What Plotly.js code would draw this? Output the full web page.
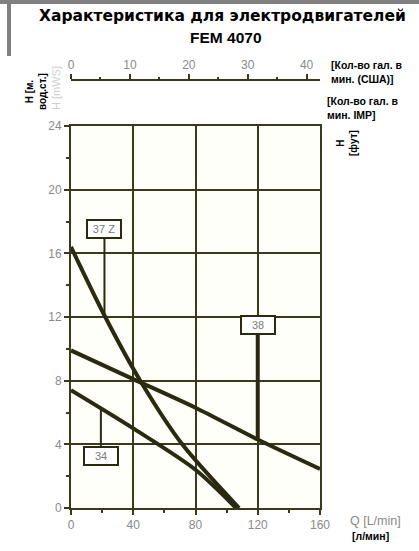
<!DOCTYPE html>
<html>
<head>
<meta charset="utf-8">
<script src="https://cdn.plot.ly/plotly-3.0.1.min.js"></script>
<style>html,body{margin:0;padding:0;background:#fff;}#chart{width:419px;height:551px;}</style>
</head>
<body>
<div id="chart"></div>
<script>
// Pump curves: flow Q [L/min] vs head H [m]
const flow37Z = [0, 22, 44.5, 71.5, 108];
const head37Z = [16.4, 12, 8, 4, 0];
const flow38 = [0, 40, 80, 120, 160];
const head38 = [9.9, 8.1, 6.3, 4.3, 2.45];
const flow34 = [0, 40, 80, 106];
const head34 = [7.4, 5.0, 2.4, 0];

const seriesNames = ['37 Z', '38', '34'];
const labelFlow = [21.5, 120, 19.2];

const xTicks = [0, 40, 80, 120, 160];
const yTicks = [0, 4, 8, 12, 16, 20, 24];
const galTicks = [0, 10, 20, 30, 40];
const LITERS_PER_GAL = 3.785;

const titleLine1 = 'Характеристика для электродвигателей';
const titleLine2 = 'FEM 4070';

// layout geometry
const W = 419, H = 551;
const L = 71, R = 99, T = 80, B = 43;
const plotTopPx = 126;
const pw = W - L - R, ph = H - T - B;
const px = v => (v - L) / pw;          // pixel x -> paper x
const py = v => (H - B - v) / ph;      // pixel y -> paper y

function interp(xs, ys, x) {
  for (let i = 0; i < xs.length - 1; i++) {
    if (x >= xs[i] && x <= xs[i + 1]) {
      const t = (x - xs[i]) / (xs[i + 1] - xs[i]);
      return ys[i] + t * (ys[i + 1] - ys[i]);
    }
  }
  return ys[ys.length - 1];
}

const curveColor = '#2a2a10';
const gridColor = '#3a3a1a';
const tickGray = '#8a8a8a';

const flows = [flow37Z, flow38, flow34];
const heads = [head37Z, head38, head34];

const traces = flows.map((f, i) => ({
  x: f, y: heads[i], type: 'scatter', mode: 'lines', name: seriesNames[i],
  line: {color: curveColor, width: 4, shape: 'spline', smoothing: 0.8}, hoverinfo: 'skip'
}));
traces.push({x: [], y: [], xaxis: 'x2', yaxis: 'y', type: 'scatter', mode: 'lines', showlegend: false});

const labelOffsets = [[0, -86], [-3, -115], [0, 47]];
const arrowWidths = [2, 4, 2];

const annotations = [];
seriesNames.forEach((n, i) => {
  const xv = labelFlow[i];
  annotations.push({
    x: xv, y: interp(flows[i], heads[i], xv), xref: 'x', yref: 'y',
    text: n, showarrow: true, arrowhead: 0, arrowwidth: arrowWidths[i], arrowcolor: curveColor,
    ax: labelOffsets[i][0], ay: labelOffsets[i][1], axref: 'pixel', ayref: 'pixel',
    bgcolor: '#ffffff', bordercolor: curveColor, borderwidth: 2, borderpad: 1,
    width: 30, height: 14, standoff: 0,
    font: {family: 'Liberation Sans, Arial', size: 11, color: '#7a7a7a'}
  });
});
// keep the 38 leader vertical: draw box offset via a separate label box
annotations[1].ax = 0;

function txt(text, xp, yp, opts) {
  return Object.assign({
    text: text, x: px(xp), y: py(yp), xref: 'paper', yref: 'paper',
    showarrow: false, xanchor: 'center', yanchor: 'middle',
    font: {family: 'Liberation Sans, Arial', size: 10.5, color: '#000'}
  }, opts || {});
}

annotations.push(txt('<b>' + titleLine1 + '</b>', 222, 16, {font: {family: 'DejaVu Sans', size: 15.5, color: '#000'}}));
annotations.push(txt('<b>' + titleLine2 + '</b>', 226, 37, {font: {family: 'Liberation Sans, Arial', size: 15.5, color: '#000'}}));
annotations.push(txt('<b>[Кол-во гал. в<br>мин. (США)]</b>', 329, 72, {xanchor: 'left', align: 'left'}));
annotations.push(txt('<b>[Кол-во гал. в<br>мин. IMP]</b>', 325, 108, {xanchor: 'left', align: 'left'}));
annotations.push(txt('<b>H [м.<br>вод.ст.]</b>', 36, 92, {textangle: -90, font: {family: 'Liberation Sans, Arial', size: 10, color: '#000'}}));
annotations.push(txt('H [mWS]', 56, 88, {textangle: -90, font: {family: 'Liberation Sans, Arial', size: 11, color: '#cfcfcf'}}));
annotations.push(txt('<b>H<br>[фут]</b>', 347, 143, {textangle: -90, font: {family: 'Liberation Sans, Arial', size: 10, color: '#000'}}));
annotations.push(txt('Q [L/min]', 375, 521, {font: {family: 'Liberation Sans, Arial', size: 12.5, color: tickGray}}));
annotations.push(txt('<b>[л/мин]</b>', 370, 536, {font: {family: 'Liberation Sans, Arial', size: 10.5, color: '#000'}}));

const shapes = [
  {type: 'rect', xref: 'paper', yref: 'paper', x0: px(0), x1: px(W), y0: py(0), y1: py(4), fillcolor: '#808080', line: {width: 0}, layer: 'above'},
  {type: 'rect', xref: 'paper', yref: 'paper', x0: px(7), x1: px(11), y0: py(0), y1: py(56), fillcolor: '#808080', line: {width: 0}, layer: 'above'}
];

const layout = {
  width: W, height: H,
  margin: {l: L, r: R, t: T, b: B, pad: 0},
  paper_bgcolor: '#ffffff', plot_bgcolor: '#fffffa',
  showlegend: false,
  xaxis: {
    range: [0, 160], tickvals: xTicks, ticktext: xTicks.map(String),
    showgrid: true, gridcolor: gridColor, gridwidth: 2,
    showline: true, linecolor: gridColor, linewidth: 2, mirror: true,
    zeroline: false, ticks: 'outside', ticklen: 5, tickwidth: 2, tickcolor: gridColor,
    minor: {tickvals: [20, 60, 100, 140], ticks: 'outside', ticklen: 3, tickwidth: 2, tickcolor: gridColor, showgrid: false},
    tickfont: {family: 'Liberation Sans, Arial', size: 12, color: tickGray}, fixedrange: true
  },
  yaxis: {
    range: [0, 24], domain: [0, py(plotTopPx)], tickvals: yTicks, ticktext: yTicks.map(String),
    showgrid: true, gridcolor: gridColor, gridwidth: 2,
    showline: true, linecolor: gridColor, linewidth: 2, mirror: true,
    zeroline: false, ticks: 'outside', ticklen: 5, tickwidth: 2, tickcolor: gridColor,
    minor: {tickvals: [2, 6, 10, 14, 18, 22], ticks: 'outside', ticklen: 3, tickwidth: 2, tickcolor: gridColor, showgrid: false},
    tickfont: {family: 'Liberation Sans, Arial', size: 12, color: tickGray}, fixedrange: true
  },
  xaxis2: {
    overlaying: 'x', anchor: 'free', position: 1, side: 'top',
    range: [0, 160 / LITERS_PER_GAL], tickvals: galTicks, ticktext: galTicks.map(String),
    showgrid: false, zeroline: false,
    showline: true, linecolor: gridColor, linewidth: 2,
    ticks: 'outside', ticklen: 5, tickwidth: 2, tickcolor: gridColor,
    minor: {tickvals: [5, 15, 25, 35], ticks: 'outside', ticklen: 2, tickwidth: 2, tickcolor: gridColor},
    tickfont: {family: 'Liberation Sans, Arial', size: 12, color: tickGray}, fixedrange: true
  },
  annotations: annotations,
  shapes: shapes
};

Plotly.newPlot('chart', traces, layout, {displayModeBar: false, staticPlot: true});
</script>
</body>
</html>
